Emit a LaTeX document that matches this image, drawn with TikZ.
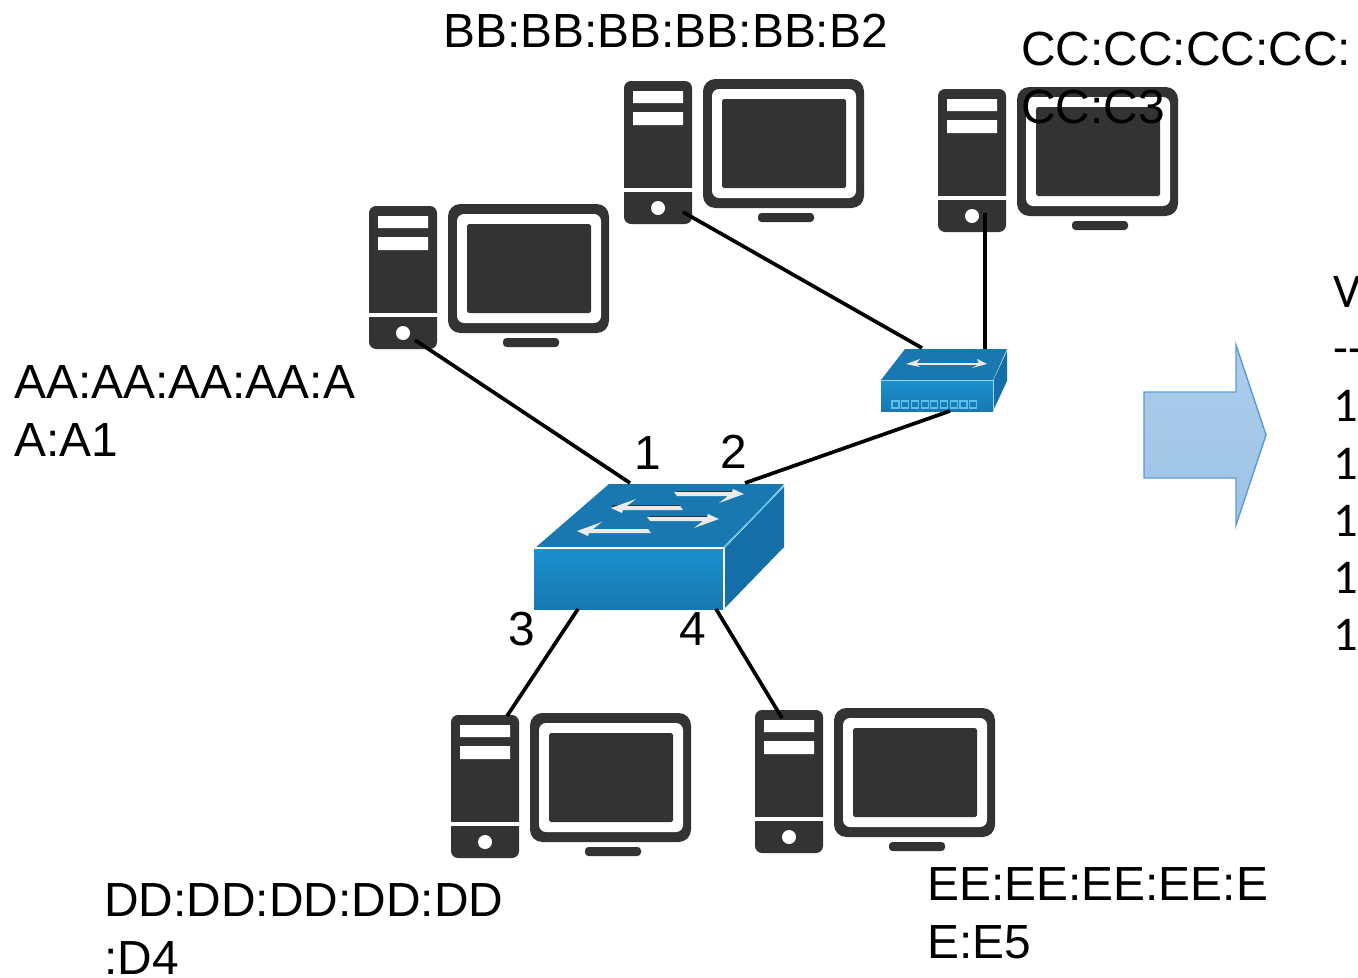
\documentclass[tikz,border=0pt]{standalone}
\usepackage{fontspec}
\setmainfont{Liberation Sans}
\newfontfamily\tablefont{Carlito}
\definecolor{sombre}{HTML}{333333}
\definecolor{bleu_haut}{HTML}{1878AF}
\definecolor{bleu_cote}{HTML}{146FA9}
\definecolor{bleu_clair}{HTML}{1A90CF}
\definecolor{bleu_bord}{HTML}{5BC0EA}
\definecolor{fleche_bord}{HTML}{5B9BD5}
\begin{document}
\begin{tikzpicture}[x=0.02cm,y=-0.02cm]
	\tikzstyle{etiquette}=[anchor=north west,inner sep=0pt,align=left,font=\fontsize{27.25}{32.9}\selectfont]
	\tikzstyle{colonne}=[anchor=north west,inner sep=0pt,align=left,font=\tablefont\fontsize{27.6}{32.55}\selectfont]
	\tikzstyle{numero}=[inner sep=0pt,font=\fontsize{27.2}{32.6}\selectfont]
	\tikzstyle{port}=[inner sep=0pt,outer sep=0pt,minimum size=0pt]
	\tikzstyle{lien}=[line width=2.1pt,black]
	\tikzstyle{case}=[draw=bleu_bord,line width=0.7pt]
	\tikzset{
		machine/.pic={
			\fill[sombre,rounded corners=4pt] (0,1) rectangle (68,144);
			\fill[white] (9,11) rectangle (59,23) (9,32) rectangle (59,45);
			\fill[white] (-1,108) rectangle (69,112);
			\fill[white] (34,128) circle[radius=7];
			\fill[sombre,rounded corners=7pt] (79,-1) rectangle (240,128);
			\fill[white,rounded corners=4pt] (88,9) rectangle (232,118);
			\fill[sombre,rounded corners=1pt] (98,19) rectangle (222,108);
			\fill[sombre,rounded corners=2pt] (134,133) rectangle (190,142);
		},
		vers_droite/.pic={ % tip at the origin
			\fill[white!92!black] (0,0) -- (-25,9) -- (-16,2) -- (-#1,2) -- (-#1-3,-2) -- (-12,-2) -- (-11,-5) -- cycle;
		},
	}
	\useasboundingbox (0,0) rectangle (1358,977);
	\clip (0,0) rectangle (1358,977);
	\pic at (369,205) {machine}; % a
	\pic at (624,80) {machine}; % b
	\pic at (938,88) {machine}; % c
	\pic at (451,714) {machine}; % d
	\pic at (755,709) {machine}; % e
	% switch
	\fill[bleu_haut] (609,484) -- (784,484) -- (724,548) -- (535,548) -- cycle;
	\fill[bleu_cote] (724,549) -- (784,487) -- (784,547) -- (724,609) -- cycle;
	\shade[top color=bleu_clair,bottom color=bleu_haut] (534,549) rectangle (723,609);
	\draw[white,line width=0.8pt] (534,548) -- (724,548) -- (724,609);
	\draw[bleu_bord,line width=0.8pt] (724,547) -- (784,486);
	\draw[sombre,line width=0.6pt] (677,492) -- (733,492) (612,506) -- (680,506) (650,517) -- (708,517);
	\pic at (744,494) {vers_droite=67};
	\pic[rotate=180] at (611,508) {vers_droite=69};
	\pic at (719,519) {vers_droite=69};
	\pic[rotate=180] at (577,531) {vers_droite=71};
	% hub
	\fill[bleu_haut] (905,349) -- (1007,349) -- (993,380) -- (881,380) -- cycle;
	\fill[bleu_cote] (993,381) -- (1007,351) -- (1007,381) -- (993,411) -- cycle;
	\shade[top color=bleu_clair,bottom color=bleu_haut] (881,381) rectangle (993,411);
	\draw[bleu_bord!60!white,line width=0.5pt] (881,380.5) -- (993,380.5) -- (993,411);
	\draw[white!92!black,line width=0.8pt] (913,364) -- (980,364);
	\fill[white!92!black] (906,364) -- (920,359) -- (916,364) -- (920,367) -- cycle;
	\fill[white!92!black] (987,364) -- (977,359) -- (979,364) -- (972,368) -- cycle;
	\foreach \i in {0,...,8}
		\draw[case] (892+\i*9.7,401) rectangle +(7,7);
	% ports
	\node[port] (port_a) at (415,340) {};
	\node[port] (port_b) at (683,212) {};
	\node[port] (port_c) at (985,213) {};
	\node[port] (port_d) at (507,716) {};
	\node[port] (port_e) at (782,718) {};
	\node[port] (switch_1) at (630,483) {};
	\node[port] (switch_2) at (745,483) {};
	\node[port] (switch_3) at (578,609) {};
	\node[port] (switch_4) at (716,609) {};
	\node[port] (hub_g) at (922,348) {};
	\node[port] (hub_d) at (985,349) {};
	\node[port] (hub_b) at (950,411) {};
	\draw[lien] (port_a) -- (switch_1);
	\draw[lien] (hub_b) -- (switch_2);
	\draw[lien] (port_d) -- (switch_3);
	\draw[lien] (port_e) -- (switch_4);
	\draw[lien] (port_b) -- (hub_g);
	\draw[lien] (port_c) -- (hub_d);
	% big arrow
	\shade[top color=fleche_bord!50!white,bottom color=fleche_bord!60!white,draw=fleche_bord,line width=0.8pt] (1144,392) -- (1236,392) -- (1236,345) -- (1266,435) -- (1236,525) -- (1236,478) -- (1144,478) -- cycle;
	% labels
	\node[etiquette] (mac_b) at (443,14) {BB:BB:BB:BB:BB:B2};
	\node[etiquette] (mac_c) at (1021,32) {CC:CC:CC:CC:\\CC:C3};
	\node[etiquette] (mac_a) at (14,365) {AA:AA:AA:AA:A\\A:A1};
	\node[etiquette] (mac_d) at (104,883) {DD:DD:DD:DD:DD\\:D4};
	\node[etiquette] (mac_e) at (927,867) {EE:EE:EE:EE:E\\E:E5};
	\node[colonne] (table) at (1333,276) {V\\-{}-\\1\\1\\1\\1\\1};
	\node[numero] (num_1) at (648,453) {1};
	\node[numero] (num_2) at (734,452) {2};
	\node[numero] (num_3) at (522,629) {3};
	\node[numero] (num_4) at (693,629) {4};
\end{tikzpicture}
\end{document}
